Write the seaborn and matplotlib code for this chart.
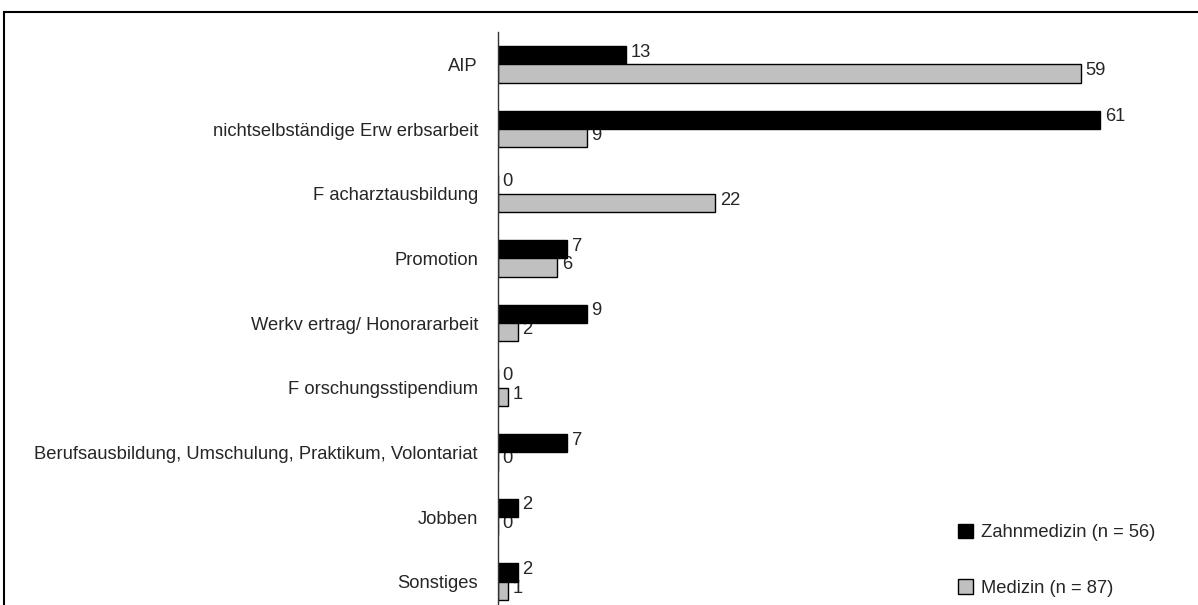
import seaborn as sns
import matplotlib.pyplot as plt
import matplotlib.patches as mpatches
import pandas as pd
import numpy as np

# categories and values (in %)
kategorien = ['AIP', 'nichtselbständige Erw erbsarbeit', 'F acharztausbildung', 'Promotion',
              'Werkv ertrag/ Honorararbeit', 'F orschungsstipendium',
              'Berufsausbildung, Umschulung, Praktikum, Volontariat', 'Jobben', 'Sonstiges']
zahnmedizin = [13, 61, 0, 7, 9, 0, 7, 2, 2]
medizin = [59, 9, 22, 6, 2, 1, 0, 0, 1]
gruppen = ['Zahnmedizin (n = 56)', 'Medizin (n = 87)']

df = pd.DataFrame({
    'kategorie': kategorien * 2,
    'wert': zahnmedizin + medizin,
    'gruppe': [gruppen[0]] * len(kategorien) + [gruppen[1]] * len(kategorien),
})

sns.set_style('white')
plt.rcParams['font.family'] = ['Liberation Sans', 'DejaVu Sans']
fs = 13.2

fig = plt.figure(figsize=(11.98, 6.05), dpi=100)
ax = fig.add_axes([498 / 1198, -9 / 605, 700 / 1198, 582 / 605])
ax.patch.set_alpha(0)

sns.barplot(data=df, x='wert', y='kategorie', hue='gruppe', order=kategorien,
            hue_order=gruppen, palette=['#000000', '#c0c0c0'], width=0.572,
            edgecolor='black', linewidth=1, orient='h', ax=ax, legend=False, zorder=2)

# value labels, drawn behind the bars
for cont, werte in zip(ax.containers, [zahnmedizin, medizin]):
    for bar, v in zip(cont, werte):
        yc = bar.get_y() + bar.get_height() / 2
        ax.annotate(str(v), (bar.get_width(), yc), xytext=(3.3, 2), textcoords='offset points',
                    ha='left', va='center', fontsize=fs, zorder=1)

ax.set_xlim(0, 70.9)
ax.set_xlabel('')
ax.set_ylabel('')
ax.xaxis.set_visible(False)
for s in ['top', 'right', 'bottom']:
    ax.spines[s].set_visible(False)
ax.spines['left'].set_linewidth(1)
ax.spines['left'].set_color('#333333')
ax.tick_params(axis='y', which='major', length=0, pad=14.4, labelsize=fs)
ax.set_yticks(np.arange(-0.5, len(kategorien), 1), minor=True)
ax.tick_params(axis='y', which='minor', length=7, width=1, color='#333333', direction='out')

# legend
handles = [mpatches.Patch(facecolor=c, edgecolor='black', linewidth=1) for c in ['#000000', '#c0c0c0']]
fig.legend(handles, gruppen, loc='upper left', bbox_to_anchor=(941 / 1198, 1 - 507 / 605),
           frameon=False, fontsize=fs, handlelength=0.85, handleheight=0.85,
           handletextpad=0.45, labelspacing=2.08)

# outer frame
fig.patches.append(mpatches.Rectangle((4 / 1198, -0.1), 1.2, 1.1 - 12 / 605,
                                      transform=fig.transFigure, fill=False,
                                      edgecolor='black', linewidth=1.5))

fig.savefig('out.png', dpi=100)
